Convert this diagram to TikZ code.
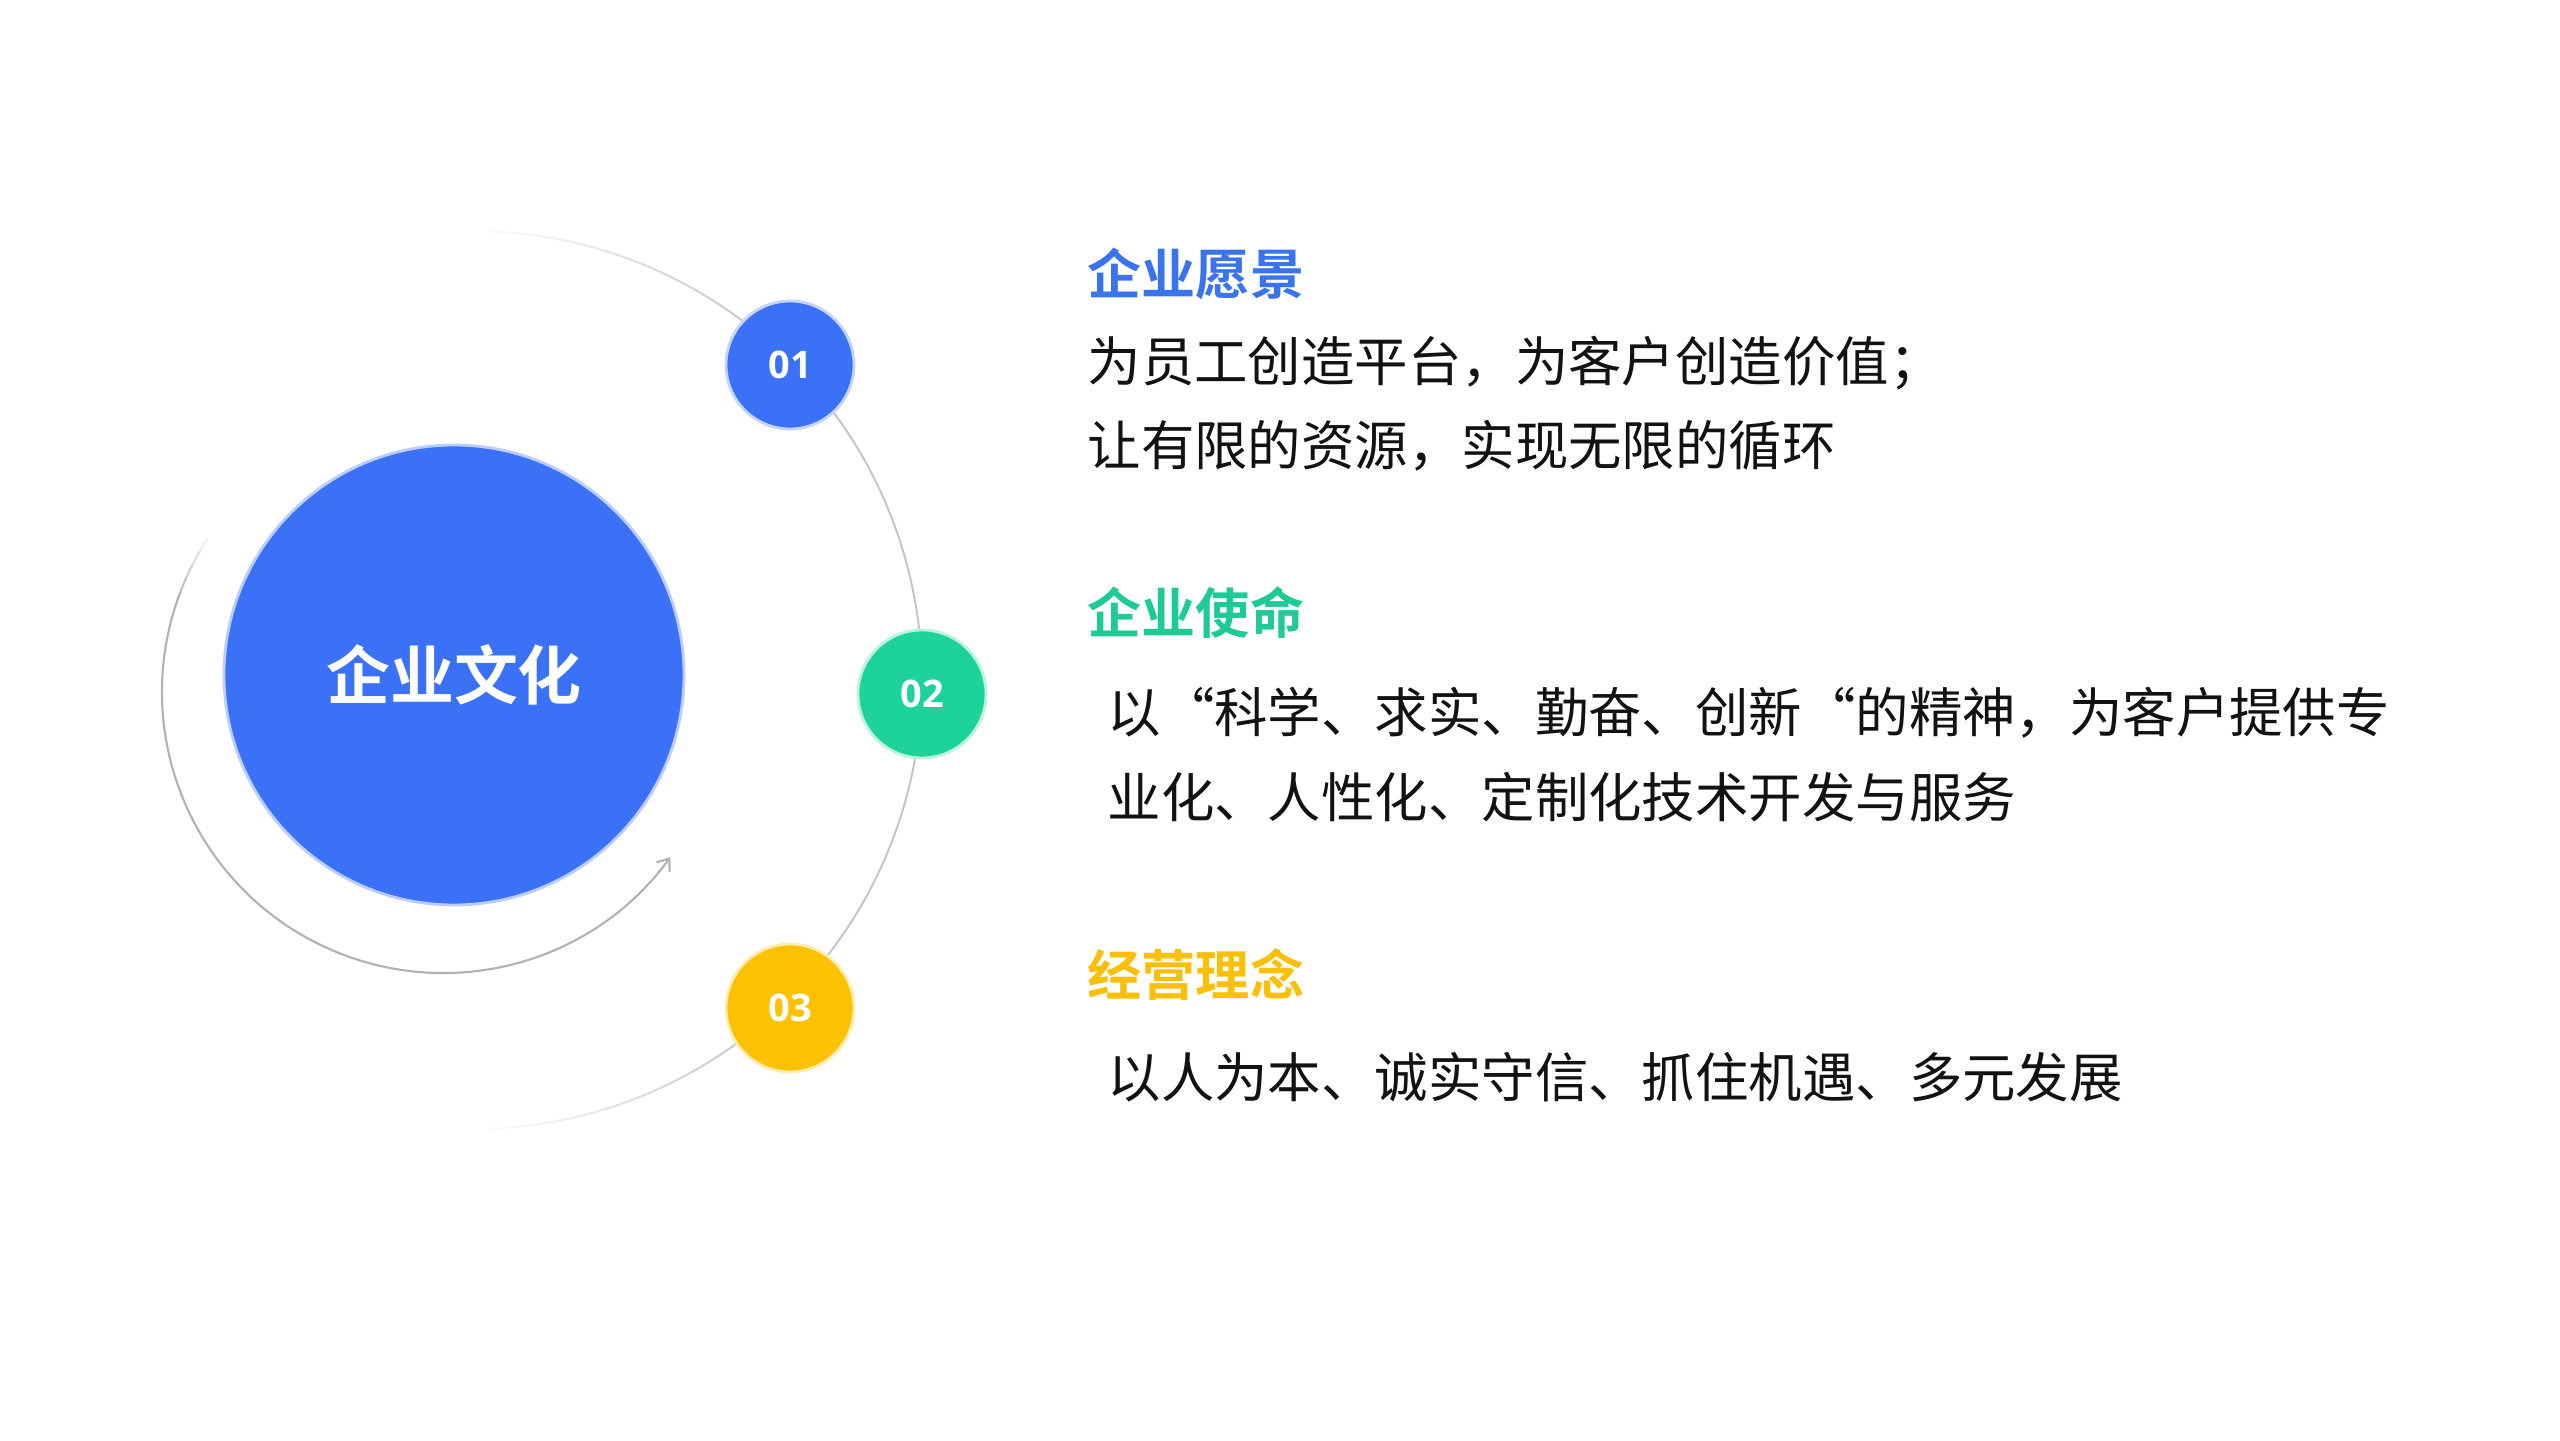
\documentclass[tikz,border=0pt]{standalone}
\usepackage{fontspec}
\newfontfamily\cjk{Noto Sans CJK SC}[BoldFont={Noto Sans CJK SC Bold}]
\newfontfamily\numfont{Open Sans}[BoldFont={Open Sans Bold}]
\usetikzlibrary{arrows.meta}
\definecolor{cblue}{HTML}{3B71F7}
\definecolor{tblue}{HTML}{3A74EC}
\definecolor{cgreen}{HTML}{1ED39A}
\definecolor{tgreen}{HTML}{1FCB95}
\definecolor{cyellow}{HTML}{FDC203}
\definecolor{tyellow}{HTML}{FABF08}
\definecolor{ctext}{HTML}{121212}
\definecolor{arcgrey}{HTML}{C4C4C4}
\definecolor{innergrey}{HTML}{B2B2B2}
\begin{document}
\begin{tikzpicture}[
  bodytext/.style={anchor=base west, inner sep=0pt, text=ctext, font={\cjk\fontsize{15.2pt}{18pt}\selectfont}},
  titletext/.style={anchor=base west, inner sep=0pt, font={\cjk\bfseries\fontsize{15.4pt}{18pt}\selectfont}},
  numdot/.style={circle, minimum size=1.28cm, inner sep=0pt, text=white, line width=0.8pt, font={\numfont\bfseries\fontsize{10.8pt}{12pt}\selectfont}},
  bigdot/.style={circle, minimum size=4.60cm, inner sep=0pt, fill=cblue, draw=cblue!35!white, line width=0.8pt, text=white, font={\cjk\bfseries\fontsize{18.2pt}{22pt}\selectfont}},
  arcline/.style={draw=arcgrey, line width=0.55pt},
  innerline/.style={draw=innergrey, line width=0.6pt}
]
\useasboundingbox (0,0) rectangle (25.6,14.4);
\fill[white] (0,0) rectangle (25.6,14.4);

% centres of the two arcs
\coordinate (oc) at (4.73,7.60);
\coordinate (ic) at (4.43,7.48);

% outer arc through the three numbered dots, fading at both ends
\draw[arcline] (oc) ++(52:4.49) arc[start angle=52, end angle=-52, radius=4.49];
\foreach \i [evaluate=\i as \op using {1-(\i+1)/13}] in {0,...,11} {
  \draw[arcline, draw opacity=\op] (oc) ++({52+\i*3}:4.49) arc[start angle={52+\i*3}, end angle={55+\i*3}, radius=4.49];
  \draw[arcline, draw opacity=\op] (oc) ++({-52-\i*3}:4.49) arc[start angle={-52-\i*3}, end angle={-55-\i*3}, radius=4.49];
}

% inner arc with arrow
\draw[innerline, -{Straight Barb[length=3pt,width=4.6pt]}] (ic) ++(159:2.81) arc[start angle=159, end angle=324, radius=2.81];
\foreach \i [evaluate=\i as \op using {1-(\i+1)/5}] in {0,...,3} {
  \draw[innerline, draw opacity=\op] (ic) ++({159-\i*3}:2.81) arc[start angle={159-\i*3}, end angle={156-\i*3}, radius=2.81];
}

% central circle
\node[bigdot] (core) at (4.54,7.65) {企业文化};

% numbered dots
\node[numdot, fill=cblue, draw=cblue!30!white] (n1) at (7.90,10.75) {01};
\node[numdot, fill=cgreen, draw=cgreen!30!white] (n2) at (9.22,7.46) {02};
\node[numdot, fill=cyellow, draw=cyellow!30!white] (n3) at (7.90,4.32) {03};

% texts
\node[titletext, text=tblue] (t1) at (10.87,11.45) {企业愿景};
\node[bodytext] (l1) at (10.87,10.58) {为员工创造平台，为客户创造价值；};
\node[bodytext] (l2) at (10.87,9.74) {让有限的资源，实现无限的循环};

\node[titletext, text=tgreen] (t2) at (10.87,8.06) {企业使命};
\node[bodytext] (l3) at (11.07,7.07) {以“科学、求实、勤奋、创新“的精神，为客户提供专};
\node[bodytext] (l4) at (11.07,6.22) {业化、人性化、定制化技术开发与服务};

\node[titletext, text=tyellow] (t3) at (10.87,4.44) {经营理念};
\node[bodytext] (l5) at (11.07,3.42) {以人为本、诚实守信、抓住机遇、多元发展};
\end{tikzpicture}
\end{document}
